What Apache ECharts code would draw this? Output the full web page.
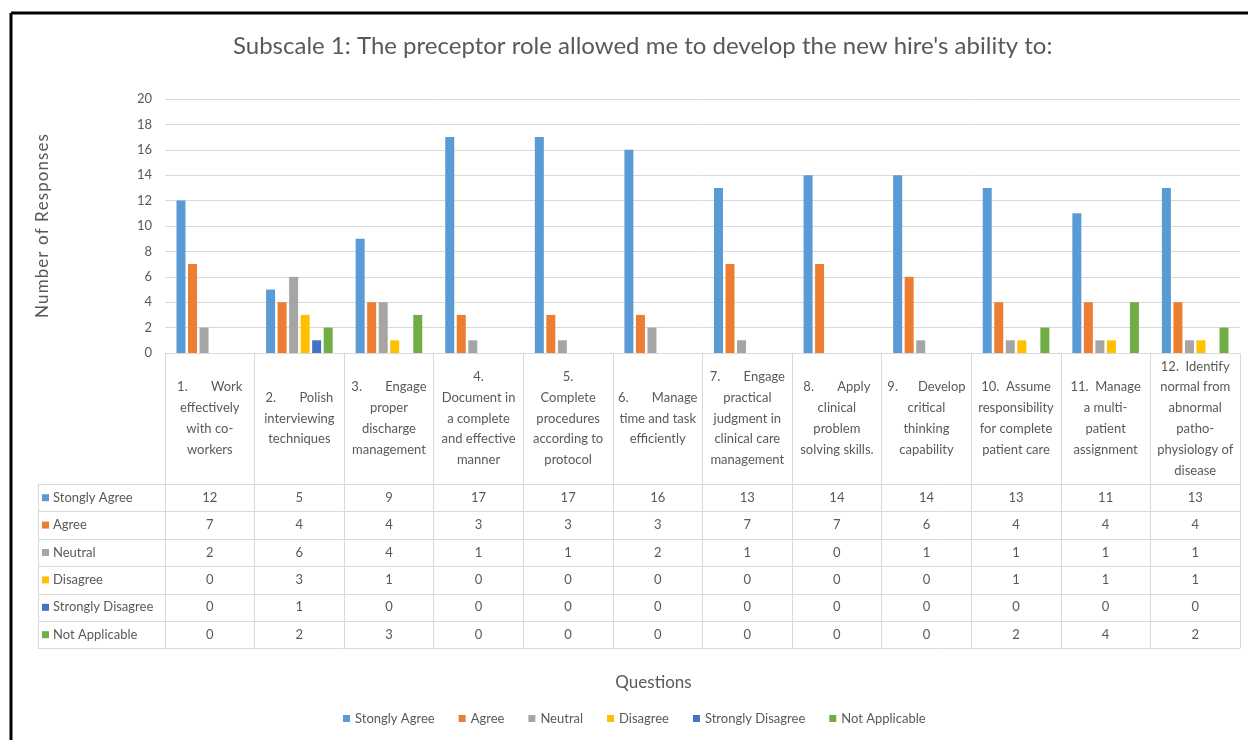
<!DOCTYPE html>
<html>
<head>
<meta charset="utf-8">
<script src="https://cdn.jsdelivr.net/npm/echarts@6/dist/echarts.min.js"></script>
<style>
html,body{margin:0;padding:0;background:#fff;}
#chart{width:1248px;height:740px;}
</style>
</head>
<body>
<div id="chart"></div>
<script>
// ---- data ----
const titleText = "Subscale 1: The preceptor role allowed me to develop the new hire's ability to:";
const categories = [
  "1.       Work\neffectively\nwith co-\nworkers",
  "2.       Polish\ninterviewing\ntechniques",
  "3.       Engage\nproper\ndischarge\nmanagement",
  "4.\nDocument in\na complete\nand effective\nmanner",
  "5.\nComplete\nprocedures\naccording to\nprotocol",
  "6.       Manage\ntime and task\nefficiently",
  "7.       Engage\npractical\njudgment in\nclinical care\nmanagement",
  "8.       Apply\nclinical\nproblem\nsolving skills.",
  "9.      Develop\ncritical\nthinking\ncapability",
  "10.  Assume\nresponsibility\nfor complete\npatient care",
  "11.  Manage\na multi-\npatient\nassignment",
  "12.  Identify\nnormal from\nabnormal\npatho-\nphysiology of\ndisease"
];
const seriesNames = ["Stongly Agree", "Agree", "Neutral", "Disagree", "Strongly Disagree", "Not Applicable"];
const stronglyAgree    = [12, 5, 9, 17, 17, 16, 13, 14, 14, 13, 11, 13];
const agree            = [7, 4, 4, 3, 3, 3, 7, 7, 6, 4, 4, 4];
const neutral          = [2, 6, 4, 1, 1, 2, 1, 0, 1, 1, 1, 1];
const disagree         = [0, 3, 1, 0, 0, 0, 0, 0, 0, 1, 1, 1];
const stronglyDisagree = [0, 1, 0, 0, 0, 0, 0, 0, 0, 0, 0, 0];
const notApplicable    = [0, 2, 3, 0, 0, 0, 0, 0, 0, 2, 4, 2];
const yMin = 0, yMax = 20, yInterval = 2;
const yAxisName = "Number of Responses";
const xAxisName = "Questions";

// ---- styling ----
const colors = ['#5B9BD5', '#ED7D31', '#A5A5A5', '#FFC000', '#4472C4', '#70AD47'];
const seriesData = [stronglyAgree, agree, neutral, disagree, stronglyDisagree, notApplicable];
const FONT = 'Lato';
const TXT = '#595959';
const LINE = '#D9D9D9';

const W = 1248, H = 740;
const gridLeft = 165, gridRight = 8, gridTop = 99, axisY = 353;
const headerH = 131, rowH = 27.4;
const tableLeft = 38;

// letter-spaced axis title (Excel style)
const spacedYName = yAxisName.split('').join('\u200A');

const chart = echarts.init(document.getElementById('chart'), null, {renderer: 'canvas'});

const xAxes = [{
  type: 'category',
  data: categories,
  gridIndex: 0,
  position: 'bottom',
  name: xAxisName,
  nameLocation: 'middle',
  nameGap: 321,
  nameTextStyle: {fontFamily: FONT, fontSize: 17, color: TXT, padding: [0, 98, 0, 0]},
  axisLine: {show: true, lineStyle: {color: LINE, width: 1}},
  axisTick: {show: true, interval: 0, length: headerH + rowH * 6, lineStyle: {color: LINE, width: 1}},
  axisLabel: {
    interval: 0, margin: headerH / 2, verticalAlign: 'middle', align: 'center',
    fontFamily: FONT, fontSize: 13, lineHeight: 20.8, color: TXT
  }
}];
seriesData.forEach((arr, i) => {
  xAxes.push({
    type: 'category',
    data: arr.map(String),
    gridIndex: 0,
    position: 'bottom',
    offset: headerH + rowH * i,
    axisLine: {show: false},
    axisTick: {show: false},
    splitLine: {show: false},
    axisLabel: {interval: 0, margin: rowH / 2, verticalAlign: 'middle', align: 'center',
      fontFamily: FONT, fontSize: 13, color: TXT}
  });
});

const option = {
  backgroundColor: '#fff',
  animation: false,
  color: colors,
  title: {
    text: titleText,
    left: 228,
    top: 29,
    textStyle: {fontFamily: FONT, fontSize: 24, fontWeight: 'normal', color: TXT}
  },
  legend: {
    data: seriesNames,
    bottom: 10,
    left: 338,
    icon: 'rect',
    itemWidth: 7,
    itemHeight: 7,
    itemGap: 24,
    textStyle: {fontFamily: FONT, fontSize: 13, color: TXT}
  },
  grid: {left: gridLeft, right: gridRight, top: gridTop, bottom: H - axisY, containLabel: false},
  xAxis: xAxes,
  yAxis: {
    type: 'value',
    min: yMin, max: yMax, interval: yInterval,
    name: spacedYName,
    nameLocation: 'middle',
    nameGap: 114,
    nameTextStyle: {fontFamily: FONT, fontSize: 17, color: TXT, padding: [0, 0, 0, 0]},
    axisLine: {show: false},
    axisTick: {show: false},
    axisLabel: {fontFamily: FONT, fontSize: 13, color: TXT, margin: 13},
    splitLine: {lineStyle: {color: LINE, width: 1}}
  },
  series: seriesNames.map((n, i) => ({
    name: n,
    type: 'bar',
    xAxisIndex: 0,
    data: seriesData[i],
    barWidth: 9,
    barGap: '28%',
    itemStyle: {color: colors[i]}
  }))
};
chart.setOption(option);

// table lines + row labels (positions derived from the grid layout)
const gRight = W - gridRight;
const tableTop = axisY + headerH;
const graphics = [];
// frame border
graphics.push({type: 'line', shape: {x1: 11, y1: 13, x2: W, y2: 13}, style: {stroke: '#000', lineWidth: 3}, silent: true});
graphics.push({type: 'line', shape: {x1: 11, y1: 13, x2: 11, y2: H}, style: {stroke: '#000', lineWidth: 3}, silent: true});
for (let i = 0; i <= seriesNames.length; i++) {
  const y = Math.round(tableTop + rowH * i) + 0.5;
  graphics.push({type: 'line', shape: {x1: tableLeft, y1: y, x2: gRight, y2: y}, style: {stroke: LINE, lineWidth: 1}, silent: true});
}
graphics.push({type: 'line', shape: {x1: tableLeft + 0.5, y1: tableTop, x2: tableLeft + 0.5, y2: tableTop + rowH * 6}, style: {stroke: LINE, lineWidth: 1}, silent: true});
seriesNames.forEach((n, i) => {
  const cy = tableTop + rowH * i + rowH / 2;
  graphics.push({type: 'rect', shape: {x: tableLeft + 4, y: cy - 3.5, width: 7, height: 7}, style: {fill: colors[i]}, silent: true});
  graphics.push({type: 'text', x: tableLeft + 15, y: cy, style: {text: n, fontFamily: FONT, fontSize: 13, fill: TXT, verticalAlign: 'middle', align: 'left'}, silent: true});
});
chart.setOption({graphic: graphics});
</script>
</body>
</html>
